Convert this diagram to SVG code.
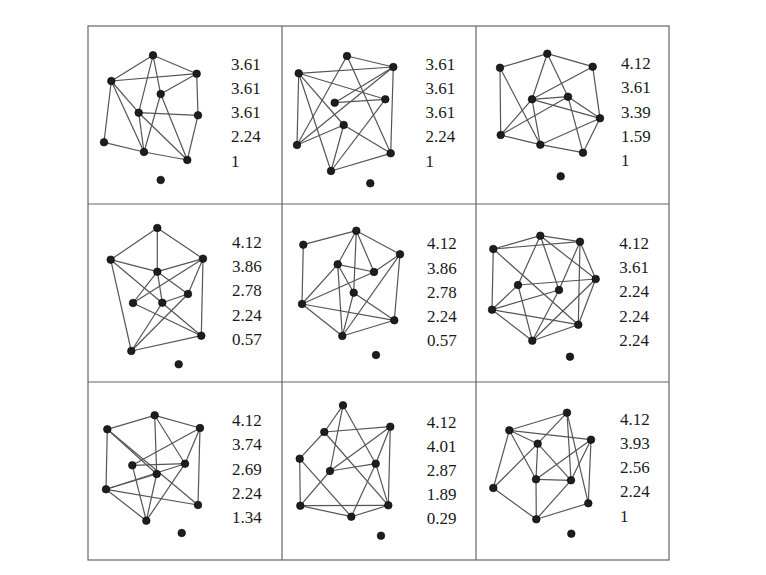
<svg xmlns="http://www.w3.org/2000/svg" width="766" height="575" viewBox="0 0 766 575">
<style>
.grid{fill:none;stroke:#666;stroke-width:1.2}
.e line{stroke:#555;stroke-width:1.2}
.n circle{fill:#1e1e1e;stroke:#000;stroke-width:0.6}
.t{font-family:"Liberation Serif",serif;font-size:17px;fill:#1a1a1a}
</style>
<rect width="766" height="575" fill="#fff"/>
<g id="grid" class="grid">
<rect x="88" y="26" width="581" height="534"/>
<line x1="282" y1="26" x2="282" y2="560"/>
<line x1="476" y1="26" x2="476" y2="560"/>
<line x1="88" y1="204" x2="669" y2="204"/>
<line x1="88" y1="382" x2="669" y2="382"/>
</g>
<g id="connectors" class="e">
<!-- cell 1 -->
<line x1="153" y1="55.3" x2="111.3" y2="81"/>
<line x1="153" y1="55.3" x2="196.7" y2="73.7"/>
<line x1="153" y1="55.3" x2="138.7" y2="112.7"/>
<line x1="153" y1="55.3" x2="160.7" y2="94"/>
<line x1="111.3" y1="81" x2="196.7" y2="73.7"/>
<line x1="196.7" y1="73.7" x2="160.7" y2="94"/>
<line x1="196.7" y1="73.7" x2="198" y2="115.3"/>
<line x1="111.3" y1="81" x2="104" y2="142.3"/>
<line x1="111.3" y1="81" x2="144" y2="152"/>
<line x1="111.3" y1="81" x2="138.7" y2="112.7"/>
<line x1="138.7" y1="112.7" x2="198" y2="115.3"/>
<line x1="138.7" y1="112.7" x2="144" y2="152"/>
<line x1="138.7" y1="112.7" x2="187.3" y2="160"/>
<line x1="160.7" y1="94" x2="144" y2="152"/>
<line x1="160.7" y1="94" x2="187.3" y2="160"/>
<line x1="104" y1="142.3" x2="144" y2="152"/>
<line x1="144" y1="152" x2="187.3" y2="160"/>
<line x1="198" y1="115.3" x2="187.3" y2="160"/>
<!-- cell 2 -->
<line x1="347" y1="56" x2="393.3" y2="67"/>
<line x1="347" y1="56" x2="297" y2="145"/>
<line x1="347" y1="56" x2="390.7" y2="153.3"/>
<line x1="298.7" y1="73.3" x2="393.3" y2="67"/>
<line x1="298.7" y1="73.3" x2="385.3" y2="99.3"/>
<line x1="298.7" y1="73.3" x2="343.7" y2="125"/>
<line x1="298.7" y1="73.3" x2="297" y2="145"/>
<line x1="298.7" y1="73.3" x2="331" y2="171"/>
<line x1="393.3" y1="67" x2="334.7" y2="102.7"/>
<line x1="393.3" y1="67" x2="297" y2="145"/>
<line x1="393.3" y1="67" x2="390.7" y2="153.3"/>
<line x1="334.7" y1="102.7" x2="385.3" y2="99.3"/>
<line x1="385.3" y1="99.3" x2="331" y2="171"/>
<line x1="343.7" y1="125" x2="297" y2="145"/>
<line x1="343.7" y1="125" x2="390.7" y2="153.3"/>
<line x1="343.7" y1="125" x2="331" y2="171"/>
<line x1="331" y1="171" x2="390.7" y2="153.3"/>
<!-- cell 3 -->
<line x1="547.3" y1="53.7" x2="500" y2="67.7"/>
<line x1="547.3" y1="53.7" x2="592.7" y2="66.7"/>
<line x1="547.3" y1="53.7" x2="532" y2="99.3"/>
<line x1="547.3" y1="53.7" x2="568" y2="96.7"/>
<line x1="500" y1="67.7" x2="500.7" y2="135"/>
<line x1="500" y1="67.7" x2="540.3" y2="144.7"/>
<line x1="592.7" y1="66.7" x2="532" y2="99.3"/>
<line x1="592.7" y1="66.7" x2="600" y2="118.3"/>
<line x1="532" y1="99.3" x2="568" y2="96.7"/>
<line x1="532" y1="99.3" x2="600" y2="118.3"/>
<line x1="532" y1="99.3" x2="500.7" y2="135"/>
<line x1="532" y1="99.3" x2="540.3" y2="144.7"/>
<line x1="568" y1="96.7" x2="600" y2="118.3"/>
<line x1="568" y1="96.7" x2="500.7" y2="135"/>
<line x1="568" y1="96.7" x2="583" y2="152.7"/>
<line x1="600" y1="118.3" x2="540.3" y2="144.7"/>
<line x1="600" y1="118.3" x2="583" y2="152.7"/>
<line x1="500.7" y1="135" x2="540.3" y2="144.7"/>
<line x1="540.3" y1="144.7" x2="583" y2="152.7"/>
<!-- cell 4 -->
<line x1="157.3" y1="228" x2="110.7" y2="259.7"/>
<line x1="157.3" y1="228" x2="203" y2="258.7"/>
<line x1="157.3" y1="228" x2="157.3" y2="271.7"/>
<line x1="110.7" y1="259.7" x2="157.3" y2="271.7"/>
<line x1="110.7" y1="259.7" x2="201.3" y2="335.7"/>
<line x1="110.7" y1="259.7" x2="131.3" y2="351"/>
<line x1="203" y1="258.7" x2="157.3" y2="271.7"/>
<line x1="203" y1="258.7" x2="188" y2="294"/>
<line x1="203" y1="258.7" x2="201.3" y2="335.7"/>
<line x1="203" y1="258.7" x2="133" y2="303"/>
<line x1="157.3" y1="271.7" x2="133" y2="303"/>
<line x1="157.3" y1="271.7" x2="188" y2="294"/>
<line x1="157.3" y1="271.7" x2="162.3" y2="302.7"/>
<line x1="133" y1="303" x2="201.3" y2="335.7"/>
<line x1="162.3" y1="302.7" x2="131.3" y2="351"/>
<line x1="188" y1="294" x2="131.3" y2="351"/>
<line x1="188" y1="294" x2="162.3" y2="302.7"/>
<line x1="131.3" y1="351" x2="201.3" y2="335.7"/>
<!-- cell 5 -->
<line x1="356.3" y1="230.7" x2="303.3" y2="244.7"/>
<line x1="356.3" y1="230.7" x2="400" y2="254.3"/>
<line x1="356.3" y1="230.7" x2="337.7" y2="264.3"/>
<line x1="356.3" y1="230.7" x2="374" y2="272"/>
<line x1="356.3" y1="230.7" x2="353.7" y2="292.7"/>
<line x1="303.3" y1="244.7" x2="302" y2="304"/>
<line x1="400" y1="254.3" x2="374" y2="272"/>
<line x1="400" y1="254.3" x2="394.3" y2="320.3"/>
<line x1="400" y1="254.3" x2="342.3" y2="336"/>
<line x1="337.7" y1="264.3" x2="374" y2="272"/>
<line x1="337.7" y1="264.3" x2="353.7" y2="292.7"/>
<line x1="337.7" y1="264.3" x2="302" y2="304"/>
<line x1="337.7" y1="264.3" x2="342.3" y2="336"/>
<line x1="374" y1="272" x2="302" y2="304"/>
<line x1="353.7" y1="292.7" x2="394.3" y2="320.3"/>
<line x1="353.7" y1="292.7" x2="342.3" y2="336"/>
<line x1="302" y1="304" x2="394.3" y2="320.3"/>
<line x1="302" y1="304" x2="342.3" y2="336"/>
<line x1="394.3" y1="320.3" x2="342.3" y2="336"/>
<!-- cell 6 -->
<line x1="540.3" y1="235.7" x2="493.3" y2="249"/>
<line x1="540.3" y1="235.7" x2="580" y2="241.7"/>
<line x1="493.3" y1="249" x2="580" y2="241.7"/>
<line x1="540.3" y1="235.7" x2="595.7" y2="279"/>
<line x1="540.3" y1="235.7" x2="518" y2="285"/>
<line x1="540.3" y1="235.7" x2="559" y2="290"/>
<line x1="493.3" y1="249" x2="492" y2="309.7"/>
<line x1="493.3" y1="249" x2="578.3" y2="324.7"/>
<line x1="580" y1="241.7" x2="595.7" y2="279"/>
<line x1="580" y1="241.7" x2="559" y2="290"/>
<line x1="580" y1="241.7" x2="578.3" y2="324.7"/>
<line x1="595.7" y1="279" x2="518" y2="285"/>
<line x1="595.7" y1="279" x2="532.3" y2="340.7"/>
<line x1="595.7" y1="279" x2="578.3" y2="324.7"/>
<line x1="518" y1="285" x2="492" y2="309.7"/>
<line x1="518" y1="285" x2="532.3" y2="340.7"/>
<line x1="559" y1="290" x2="492" y2="309.7"/>
<line x1="559" y1="290" x2="532.3" y2="340.7"/>
<line x1="492" y1="309.7" x2="578.3" y2="324.7"/>
<line x1="492" y1="309.7" x2="532.3" y2="340.7"/>
<line x1="578.3" y1="324.7" x2="532.3" y2="340.7"/>
<!-- cell 7 -->
<line x1="154.7" y1="415.3" x2="107.3" y2="429.3"/>
<line x1="154.7" y1="415.3" x2="200" y2="428"/>
<line x1="154.7" y1="415.3" x2="185" y2="463.7"/>
<line x1="154.7" y1="415.3" x2="156.7" y2="474"/>
<line x1="107.3" y1="429.3" x2="106" y2="489.3"/>
<line x1="107.3" y1="429.3" x2="156.7" y2="474"/>
<line x1="107.3" y1="429.3" x2="198" y2="505"/>
<line x1="200" y1="428" x2="132.3" y2="465.3"/>
<line x1="200" y1="428" x2="185" y2="463.7"/>
<line x1="200" y1="428" x2="198" y2="505"/>
<line x1="132.3" y1="465.3" x2="185" y2="463.7"/>
<line x1="132.3" y1="465.3" x2="146.3" y2="520.7"/>
<line x1="185" y1="463.7" x2="106" y2="489.3"/>
<line x1="185" y1="463.7" x2="146.3" y2="520.7"/>
<line x1="156.7" y1="474" x2="106" y2="489.3"/>
<line x1="156.7" y1="474" x2="146.3" y2="520.7"/>
<line x1="106" y1="489.3" x2="198" y2="505"/>
<line x1="106" y1="489.3" x2="146.3" y2="520.7"/>
<!-- cell 8 -->
<line x1="343" y1="405.3" x2="324.3" y2="432"/>
<line x1="343" y1="405.3" x2="330" y2="471"/>
<line x1="343" y1="405.3" x2="375.7" y2="463.7"/>
<line x1="324.3" y1="432" x2="390.3" y2="426.7"/>
<line x1="324.3" y1="432" x2="299.7" y2="458.7"/>
<line x1="324.3" y1="432" x2="388.3" y2="505.3"/>
<line x1="390.3" y1="426.7" x2="330" y2="471"/>
<line x1="390.3" y1="426.7" x2="375.7" y2="463.7"/>
<line x1="390.3" y1="426.7" x2="388.3" y2="505.3"/>
<line x1="299.7" y1="458.7" x2="300.3" y2="505.7"/>
<line x1="299.7" y1="458.7" x2="351.3" y2="516.7"/>
<line x1="330" y1="471" x2="375.7" y2="463.7"/>
<line x1="330" y1="471" x2="300.3" y2="505.7"/>
<line x1="375.7" y1="463.7" x2="351.3" y2="516.7"/>
<line x1="375.7" y1="463.7" x2="388.3" y2="505.3"/>
<line x1="300.3" y1="505.7" x2="388.3" y2="505.3"/>
<line x1="300.3" y1="505.7" x2="351.3" y2="516.7"/>
<line x1="351.3" y1="516.7" x2="388.3" y2="505.3"/>
<!-- cell 9 -->
<line x1="567" y1="412.7" x2="509.3" y2="430.3"/>
<line x1="567" y1="412.7" x2="537.7" y2="443.7"/>
<line x1="567" y1="412.7" x2="571" y2="480.3"/>
<line x1="567" y1="412.7" x2="588.3" y2="503.3"/>
<line x1="509.3" y1="430.3" x2="591" y2="439.7"/>
<line x1="509.3" y1="430.3" x2="537.7" y2="443.7"/>
<line x1="509.3" y1="430.3" x2="536" y2="479.3"/>
<line x1="509.3" y1="430.3" x2="493.3" y2="488"/>
<line x1="591" y1="439.7" x2="536" y2="479.3"/>
<line x1="591" y1="439.7" x2="571" y2="480.3"/>
<line x1="591" y1="439.7" x2="588.3" y2="503.3"/>
<line x1="537.7" y1="443.7" x2="536" y2="479.3"/>
<line x1="537.7" y1="443.7" x2="571" y2="480.3"/>
<line x1="537.7" y1="443.7" x2="493.3" y2="488"/>
<line x1="536" y1="479.3" x2="571" y2="480.3"/>
<line x1="536" y1="479.3" x2="536.3" y2="519.3"/>
<line x1="571" y1="480.3" x2="536.3" y2="519.3"/>
<line x1="493.3" y1="488" x2="536.3" y2="519.3"/>
<line x1="588.3" y1="503.3" x2="536.3" y2="519.3"/>
</g>
<g class="n">
<g id="c1a"><circle cx="153" cy="55.3" r="3.8"/></g>
<g id="c1b"><circle cx="111.3" cy="81" r="3.8"/></g>
<g id="c1c"><circle cx="196.7" cy="73.7" r="3.8"/></g>
<g id="c1d"><circle cx="160.7" cy="94" r="3.8"/></g>
<g id="c1e"><circle cx="138.7" cy="112.7" r="3.8"/></g>
<g id="c1f"><circle cx="198" cy="115.3" r="3.8"/></g>
<g id="c1g"><circle cx="104" cy="142.3" r="3.8"/></g>
<g id="c1h"><circle cx="144" cy="152" r="3.8"/></g>
<g id="c1i"><circle cx="187.3" cy="160" r="3.8"/></g>
<g id="c1j"><circle cx="160.7" cy="180" r="3.8"/></g>
<g id="c2a"><circle cx="347" cy="56" r="3.8"/></g>
<g id="c2b"><circle cx="298.7" cy="73.3" r="3.8"/></g>
<g id="c2c"><circle cx="393.3" cy="67" r="3.8"/></g>
<g id="c2d"><circle cx="334.7" cy="102.7" r="3.8"/></g>
<g id="c2e"><circle cx="385.3" cy="99.3" r="3.8"/></g>
<g id="c2f"><circle cx="343.7" cy="125" r="3.8"/></g>
<g id="c2g"><circle cx="297" cy="145" r="3.8"/></g>
<g id="c2h"><circle cx="390.7" cy="153.3" r="3.8"/></g>
<g id="c2i"><circle cx="331" cy="171" r="3.8"/></g>
<g id="c2j"><circle cx="370.3" cy="183.3" r="3.8"/></g>
<g id="c3a"><circle cx="547.3" cy="53.7" r="3.8"/></g>
<g id="c3b"><circle cx="500" cy="67.7" r="3.8"/></g>
<g id="c3c"><circle cx="592.7" cy="66.7" r="3.8"/></g>
<g id="c3d"><circle cx="532" cy="99.3" r="3.8"/></g>
<g id="c3e"><circle cx="568" cy="96.7" r="3.8"/></g>
<g id="c3f"><circle cx="600" cy="118.3" r="3.8"/></g>
<g id="c3g"><circle cx="500.7" cy="135" r="3.8"/></g>
<g id="c3h"><circle cx="540.3" cy="144.7" r="3.8"/></g>
<g id="c3i"><circle cx="583" cy="152.7" r="3.8"/></g>
<g id="c3j"><circle cx="560.7" cy="176.3" r="3.8"/></g>
<g id="c4a"><circle cx="157.3" cy="228" r="3.8"/></g>
<g id="c4b"><circle cx="110.7" cy="259.7" r="3.8"/></g>
<g id="c4c"><circle cx="203" cy="258.7" r="3.8"/></g>
<g id="c4d"><circle cx="157.3" cy="271.7" r="3.8"/></g>
<g id="c4e"><circle cx="188" cy="294" r="3.8"/></g>
<g id="c4f"><circle cx="133" cy="303" r="3.8"/></g>
<g id="c4g"><circle cx="162.3" cy="302.7" r="3.8"/></g>
<g id="c4h"><circle cx="201.3" cy="335.7" r="3.8"/></g>
<g id="c4i"><circle cx="131.3" cy="351" r="3.8"/></g>
<g id="c4j"><circle cx="178.7" cy="364.3" r="3.8"/></g>
<g id="c5a"><circle cx="356.3" cy="230.7" r="3.8"/></g>
<g id="c5b"><circle cx="303.3" cy="244.7" r="3.8"/></g>
<g id="c5c"><circle cx="400" cy="254.3" r="3.8"/></g>
<g id="c5d"><circle cx="337.7" cy="264.3" r="3.8"/></g>
<g id="c5e"><circle cx="374" cy="272" r="3.8"/></g>
<g id="c5f"><circle cx="353.7" cy="292.7" r="3.8"/></g>
<g id="c5g"><circle cx="302" cy="304" r="3.8"/></g>
<g id="c5h"><circle cx="394.3" cy="320.3" r="3.8"/></g>
<g id="c5i"><circle cx="342.3" cy="336" r="3.8"/></g>
<g id="c5j"><circle cx="376" cy="355" r="3.8"/></g>
<g id="c6a"><circle cx="540.3" cy="235.7" r="3.8"/></g>
<g id="c6b"><circle cx="493.3" cy="249" r="3.8"/></g>
<g id="c6c"><circle cx="580" cy="241.7" r="3.8"/></g>
<g id="c6d"><circle cx="595.7" cy="279" r="3.8"/></g>
<g id="c6e"><circle cx="518" cy="285" r="3.8"/></g>
<g id="c6f"><circle cx="559" cy="290" r="3.8"/></g>
<g id="c6g"><circle cx="492" cy="309.7" r="3.8"/></g>
<g id="c6h"><circle cx="578.3" cy="324.7" r="3.8"/></g>
<g id="c6i"><circle cx="532.3" cy="340.7" r="3.8"/></g>
<g id="c6j"><circle cx="570" cy="356.7" r="3.8"/></g>
<g id="c7a"><circle cx="154.7" cy="415.3" r="3.8"/></g>
<g id="c7b"><circle cx="107.3" cy="429.3" r="3.8"/></g>
<g id="c7c"><circle cx="200" cy="428" r="3.8"/></g>
<g id="c7d"><circle cx="132.3" cy="465.3" r="3.8"/></g>
<g id="c7e"><circle cx="185" cy="463.7" r="3.8"/></g>
<g id="c7f"><circle cx="156.7" cy="474" r="3.8"/></g>
<g id="c7g"><circle cx="106" cy="489.3" r="3.8"/></g>
<g id="c7h"><circle cx="198" cy="505" r="3.8"/></g>
<g id="c7i"><circle cx="146.3" cy="520.7" r="3.8"/></g>
<g id="c7j"><circle cx="181.7" cy="533" r="3.8"/></g>
<g id="c8a"><circle cx="343" cy="405.3" r="3.8"/></g>
<g id="c8b"><circle cx="324.3" cy="432" r="3.8"/></g>
<g id="c8c"><circle cx="390.3" cy="426.7" r="3.8"/></g>
<g id="c8d"><circle cx="299.7" cy="458.7" r="3.8"/></g>
<g id="c8e"><circle cx="375.7" cy="463.7" r="3.8"/></g>
<g id="c8f"><circle cx="330" cy="471" r="3.8"/></g>
<g id="c8g"><circle cx="300.3" cy="505.7" r="3.8"/></g>
<g id="c8h"><circle cx="388.3" cy="505.3" r="3.8"/></g>
<g id="c8i"><circle cx="351.3" cy="516.7" r="3.8"/></g>
<g id="c8j"><circle cx="381" cy="535.7" r="3.8"/></g>
<g id="c9a"><circle cx="567" cy="412.7" r="3.8"/></g>
<g id="c9b"><circle cx="509.3" cy="430.3" r="3.8"/></g>
<g id="c9c"><circle cx="591" cy="439.7" r="3.8"/></g>
<g id="c9d"><circle cx="537.7" cy="443.7" r="3.8"/></g>
<g id="c9e"><circle cx="536" cy="479.3" r="3.8"/></g>
<g id="c9f"><circle cx="571" cy="480.3" r="3.8"/></g>
<g id="c9g"><circle cx="493.3" cy="488" r="3.8"/></g>
<g id="c9h"><circle cx="588.3" cy="503.3" r="3.8"/></g>
<g id="c9i"><circle cx="536.3" cy="519.3" r="3.8"/></g>
<g id="c9j"><circle cx="571.3" cy="533.7" r="3.8"/></g>
</g>
<g id="labels" class="t">
<text x="231" y="69.7">3.61</text><text x="231" y="93.9">3.61</text><text x="231" y="118.1">3.61</text><text x="231" y="142.3">2.24</text><text x="231" y="166.5">1</text>
<text x="425.5" y="69.7">3.61</text><text x="425.5" y="93.9">3.61</text><text x="425.5" y="118.1">3.61</text><text x="425.5" y="142.3">2.24</text><text x="425.5" y="166.5">1</text>
<text x="621" y="69.3">4.12</text><text x="621" y="93.4">3.61</text><text x="621" y="117.5">3.39</text><text x="621" y="141.6">1.59</text><text x="621" y="165.7">1</text>
<text x="232" y="248">4.12</text><text x="232" y="272.2">3.86</text><text x="232" y="296.4">2.78</text><text x="232" y="320.6">2.24</text><text x="232" y="344.8">0.57</text>
<text x="427" y="249.3">4.12</text><text x="427" y="273.5">3.86</text><text x="427" y="297.7">2.78</text><text x="427" y="321.9">2.24</text><text x="427" y="346.1">0.57</text>
<text x="619.3" y="249">4.12</text><text x="619.3" y="273.2">3.61</text><text x="619.3" y="297.4">2.24</text><text x="619.3" y="321.6">2.24</text><text x="619.3" y="345.8">2.24</text>
<text x="232" y="426.3">4.12</text><text x="232" y="450.4">3.74</text><text x="232" y="474.5">2.69</text><text x="232" y="498.6">2.24</text><text x="232" y="522.7">1.34</text>
<text x="426.7" y="427.5">4.12</text><text x="426.7" y="451.7">4.01</text><text x="426.7" y="475.9">2.87</text><text x="426.7" y="500.1">1.89</text><text x="426.7" y="524.3">0.29</text>
<text x="620" y="424.7">4.12</text><text x="620" y="448.9">3.93</text><text x="620" y="473.1">2.56</text><text x="620" y="497.3">2.24</text><text x="620" y="521.5">1</text>
</g>
</svg>
